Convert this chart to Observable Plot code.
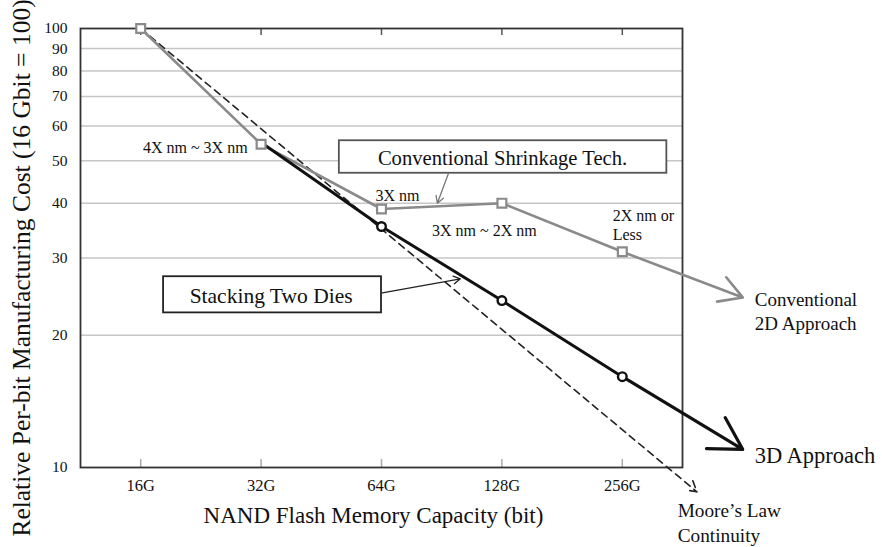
<!DOCTYPE html>
<html><head><meta charset="utf-8">
<script src="https://cdn.jsdelivr.net/npm/d3@7"></script>
<script src="https://cdn.jsdelivr.net/npm/@observablehq/plot@0.6"></script>
<style>body{margin:0;background:#fff}</style>
</head><body><div id="chart"></div>
<script>
// ---- data ----
const capacities = ["16G", "32G", "64G", "128G", "256G"];
const capIndex = [0, 1, 2, 3, 4];
const conventional = [100, 54.5, 38.8, 40.0, 31.0];
const stacked3D = [null, 55, 35.4, 24.0, 16.1];
const conventionalArrowEnd = {x: 5.0, y: 24.4};
const stacked3DArrowEnd = {x: 5.0, y: 11.0};
const mooreStart = {x: 0, y: 100};
const mooreEnd = {x: 4.62, y: 8.8};
const yTicks = [10, 20, 30, 40, 50, 60, 70, 80, 90, 100];
const yTitle = "Relative Per-bit Manufacturing Cost (16 Gbit = 100)";
const xTitle = "NAND Flash Memory Capacity (bit)";

const notesEnd = [
  {text: "4X nm ~ 3X nm", x: 0.888, y: 53.6}
];
const notesStart = [
  {text: "3X nm", x: 1.95, y: 41.9},
  {text: "3X nm ~ 2X nm", x: 2.42, y: 34.8},
  {text: "2X nm or\nLess", x: 3.92, y: 35.8}
];
const sideNotes = [
  {text: "Conventional\n2D Approach", x: 5.10, y: 22.8, size: 19, lh: 1.26},
  {text: "Moore’s Law\nContinuity", x: 4.46, y: 7.55, size: 19.3, lh: 1.3},
  {text: "3D Approach", x: 5.10, y: 10.65, size: 22.5, lh: 1}
];
const boxes = [
  {text: "Conventional Shrinkage Tech.", x1: 1.65, x2: 4.37, y1: 55.5, y2: 46.8, tx: 3.005, ty: 50.5, stroke: "#555", size: 20.6},
  {text: "Stacking Two Dies", x1: 0.19, x2: 2.0, y1: 27.2, y2: 22.5, tx: 1.083, ty: 24.6, stroke: "#222", size: 21.5}
];
const pointers = [
  {x1: 2.555, y1: 46.7, x2: 2.464, y2: 40.0, stroke: "#777"},
  {x1: 2.007, y1: 25.0, x2: 2.655, y2: 26.9, stroke: "#222"}
];

// ---- derived tables ----
const convData = capIndex.map(i => ({i, v: conventional[i]}));
const d3Data = capIndex.filter(i => stacked3D[i] != null).map(i => ({i, v: stacked3D[i]}));
const last = capIndex[capIndex.length - 1];

const serif = "'Liberation Serif', 'Times New Roman', serif";

const chart = Plot.plot({
  width: 882, height: 547,
  marginLeft: 80, marginRight: 200, marginTop: 28, marginBottom: 80,
  style: {fontFamily: serif, color: "#111", background: "#fff", overflow: "visible"},
  x: {type: "linear", domain: [-0.5, 4.5]},
  y: {type: "log", domain: [10, 100]},
  marks: [
    Plot.ruleY(yTicks.slice(1, -1), {stroke: "#c6c6c6", strokeWidth: 1.5}),
    Plot.tickX(capIndex, {x: d => d, insetTop: 431, stroke: "#aaa", strokeWidth: 1.5}),
    Plot.tickX(capIndex, {x: d => d, insetBottom: 432, stroke: "#555", strokeWidth: 1.5}),
    Plot.frame({stroke: "#333", strokeWidth: 1.8}),
    Plot.axisX(capIndex, {tickFormat: i => capacities[i], tickSize: 0, tickPadding: 12, fontSize: 16.5, label: null, fill: "#111"}),
    Plot.axisY(yTicks, {tickFormat: d => String(d), tickSize: 0, tickPadding: 13, fontSize: 15.5, label: null, fill: "#111"}),
    // boxes
    Plot.rect(boxes, {x1: "x1", x2: "x2", y1: "y1", y2: "y2", fill: "white", stroke: "stroke", strokeWidth: 1.8}),
    ...boxes.map(b => Plot.text([b], {x: "tx", y: "ty", text: "text", fontSize: b.size, fill: "#111"})),
    // pointer arrows
    Plot.arrow(pointers, {x1: "x1", y1: "y1", x2: "x2", y2: "y2", stroke: "stroke", strokeWidth: 1.3, headLength: 9}),
    // Moore's law
    Plot.arrow([{...mooreStart, ex: mooreEnd.x, ey: mooreEnd.y}], {x1: "x", y1: "y", x2: "ex", y2: "ey", stroke: "#222", strokeWidth: 1.6, strokeDasharray: "7,5", headLength: 11}),
    // conventional
    Plot.line(convData, {x: "i", y: "v", stroke: "#8a8a8a", strokeWidth: 2.6}),
    Plot.arrow([{x: last, y: conventional[last], ex: conventionalArrowEnd.x, ey: conventionalArrowEnd.y}], {x1: "x", y1: "y", x2: "ex", y2: "ey", stroke: "#8a8a8a", strokeWidth: 2.6, headLength: 15}),
    // 3D
    Plot.line(d3Data, {x: "i", y: "v", stroke: "#111", strokeWidth: 3}),
    Plot.arrow([{x: last, y: stacked3D[last], ex: stacked3DArrowEnd.x, ey: stacked3DArrowEnd.y}], {x1: "x", y1: "y", x2: "ex", y2: "ey", stroke: "#111", strokeWidth: 3.2, headLength: 17}),
    // markers
    Plot.dot(convData, {x: "i", y: "v", symbol: "square", r: 5, stroke: "#8a8a8a", strokeWidth: 2.2, fill: "white"}),
    Plot.dot(d3Data.slice(1), {x: "i", y: "v", r: 4.3, stroke: "#111", strokeWidth: 2.4, fill: "white"}),
    // notes
    Plot.text(notesEnd, {x: "x", y: "y", text: "text", textAnchor: "end", fontSize: 16, fill: "#111"}),
    Plot.text(notesStart, {x: "x", y: "y", text: "text", textAnchor: "start", fontSize: 16, lineHeight: 1.2, fill: "#111"}),
    ...sideNotes.map(n => Plot.text([n], {x: "x", y: "y", text: "text", textAnchor: "start", fontSize: n.size, lineHeight: n.lh, fill: "#111"})),
    // titles
    Plot.text([xTitle], {frameAnchor: "bottom", textAnchor: "middle", dx: -8, dy: 55, fontSize: 23, fill: "#111"}),
    Plot.text([yTitle], {frameAnchor: "left", textAnchor: "middle", rotate: -90, dx: -59, dy: 20, fontSize: 25.5, fill: "#111"})
  ]
});
document.getElementById("chart").appendChild(chart);
</script>
</body></html>
